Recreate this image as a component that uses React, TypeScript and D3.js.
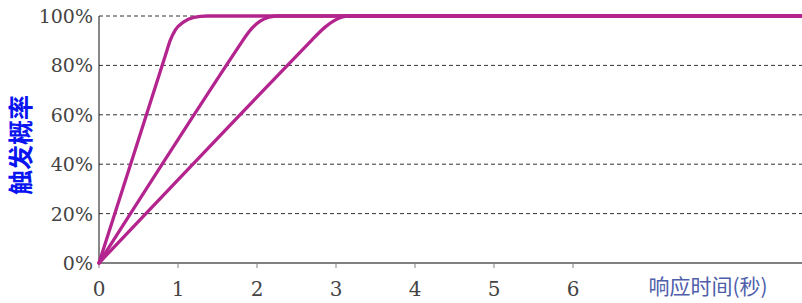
import React from 'react';
import { scaleLinear, line, curveMonotoneX } from 'd3';

const width = 802;
const height = 303;

// response time (s) vs trigger probability, three curves
const fastCurve = [
  [0, 0], [0.85, 0.85], [0.9, 0.9],
  [0.967, 0.944], [1.068, 0.975], [1.2, 0.994], [1.37, 1], [8.9, 1],
];
const midCurve = [
  [0, 0], [1.8, 0.891], [1.85, 0.915],
  [1.94, 0.952], [2.04, 0.979], [2.15, 0.995], [2.27, 1], [8.9, 1],
];
const slowCurve = [
  [0, 0], [2.7, 0.9045], [2.75, 0.921],
  [2.866, 0.956], [2.972, 0.98], [3.07, 0.995], [3.16, 1], [8.9, 1],
];
const series = [fastCurve, midCurve, slowCurve];

const xTicks = [0, 1, 2, 3, 4, 5, 6];
const yTicks = [0, 0.2, 0.4, 0.6, 0.8, 1];

const xLabel = '响应时间(秒)';
const yLabel = '触发概率';

const App = () => {
  const x = scaleLinear().domain([0, 1]).range([99, 178]);
  const y = scaleLinear().domain([0, 1]).range([263, 16]);

  const path = line<number[]>()
    .x(d => x(d[0]))
    .y(d => y(d[1]))
    .curve(curveMonotoneX);

  const tickFont = "'DejaVu Serif', 'Liberation Serif', serif";

  return (
    <svg width={width} height={height} style={{ position: 'absolute', left: 0, top: 0, background: '#fff' }}>
      {yTicks.filter(t => t > 0).map(t => (
        <line key={t} x1={x(0)} x2={width} y1={y(t)} y2={y(t)}
          stroke="#333" strokeWidth={1} strokeDasharray="4,3" />
      ))}
      <line x1={x(0)} x2={width} y1={y(0)} y2={y(0)} stroke="#808080" strokeWidth={2} />
      <line x1={x(0)} x2={x(0)} y1={y(1)} y2={y(0)} stroke="#111" strokeWidth={1} />
      {xTicks.map(t => (
        <g key={t}>
          <line x1={x(t)} x2={x(t)} y1={y(0)} y2={y(0) + 5} stroke="#808080" strokeWidth={1} />
          <text x={x(t)} y={296} textAnchor="middle" style={{ fontFamily: tickFont, fontWeight: 300 }}
            fontSize={20} fill="#444">{t}</text>
        </g>
      ))}
      {yTicks.map(t => (
        <text key={t} x={93} y={y(t) + 7} textAnchor="end" style={{ fontFamily: tickFont, fontWeight: 300 }}
          fontSize={19} fill="#444">{Math.round(t * 100)}%</text>
      ))}
      {series.map((s, i) => (
        <path key={i} d={path(s) || ''} fill="none" stroke="#b3248e" strokeWidth={3.3}
          strokeLinejoin="round" strokeLinecap="round" />
      ))}
      <text transform={`translate(30,145) rotate(-90)`} textAnchor="middle"
        fontFamily='"Noto Sans CJK SC", sans-serif' fontWeight="bold" fontSize={25} fill="#0a14f0">{yLabel}</text>
      <text x={708} y={294} textAnchor="middle" fontFamily='"Noto Sans CJK SC", serif' fontSize={21}
        fill="#4e5eaa">{xLabel}</text>
    </svg>
  );
};

export default App;
